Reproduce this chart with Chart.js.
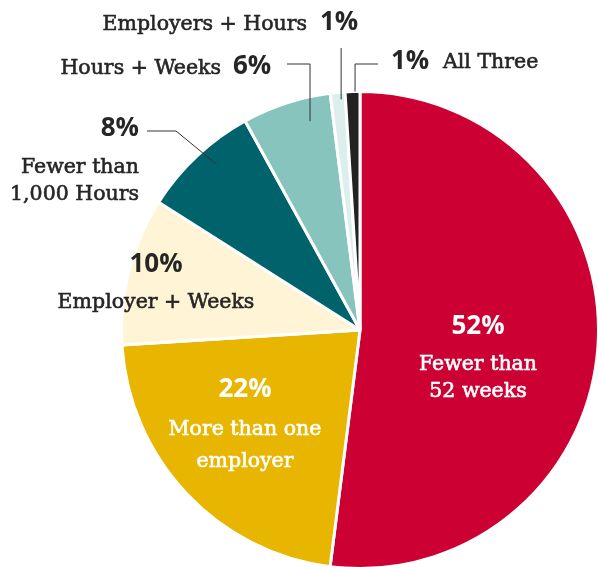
<!DOCTYPE html>
<html>
<head>
<meta charset="utf-8">
<script src="https://cdn.jsdelivr.net/npm/chart.js@4.4.0/dist/chart.umd.min.js"></script>
<style>
  html, body { margin: 0; padding: 0; background: #fff; overflow: hidden; }
  /* the pie runs a little past the right and bottom edges */
  #wrap { width: 610px; height: 580px; position: relative; }
</style>
</head>
<body>
<div id="wrap"><canvas id="pie"></canvas></div>
<script>
const categories = ['Fewer than 52 weeks', 'More than one employer', 'Employer + Weeks',
  'Fewer than 1,000 Hours', 'Hours + Weeks', 'Employers + Hours', 'All Three'];
const shares = [52, 22, 10, 8, 6, 1, 1];
const sliceColors = ['#cc0033', '#e8b500', '#fff5d6', '#00636b', '#88c4be', '#dcefed', '#222222'];

const INK = '#262626';
const PCT_FONT = '700 26px "Open Sans"';
const TXT_FONT = '20.5px "DejaVu Serif"';

// where each slice's text goes; leaders run from the text to a point inside the slice
// (t = position along the slice's sweep, r = fraction of the radius)
const labelSpec = [
  { color: '#fff', align: 'center', x: 478, pctY: 327, lines: ['Fewer than', '52 weeks'], lineY: [365, 392] },
  { color: '#fff', align: 'center', x: 245, pctY: 390, lines: ['More than one', 'employer'], lineY: [430, 462] },
  { color: INK, align: 'center', x: 156, pctY: 265, lines: ['Employer + Weeks'], lineY: [303] },
  { color: INK, align: 'right', x: 139, pctY: 129, lines: ['Fewer than', '1,000 Hours'], lineY: [168, 195],
    leader: { from: [147, 131], via: [[176, 131]], t: 0.58, r: 0.92 } },
  { color: INK, inline: 'Hours + Weeks', pctX: 233, textRight: 221, pctY: 67,
    leader: { from: [287, 64], elbow: true, t: 0.71, r: 0.9 } },
  { color: INK, inline: 'Employers + Hours', pctX: 320, textRight: 307, pctY: 23,
    leader: { fromY: 48, t: 0.7, r: 0.97 } },
  { color: INK, inlineAfter: 'All Three', pctX: 391, textLeft: 443, pctY: 62,
    leader: { from: [378, 64], elbow: true, t: 0.67, r: 1.0 } }
];

function serifText(ctx, str, x, y) {
  // a hairline stroke gives the serif a little more weight
  ctx.fillText(str, x, y);
  ctx.strokeText(str, x, y);
}

const sliceLabels = {
  id: 'sliceLabels',
  afterDatasetsDraw(chart) {
    const ctx = chart.ctx;
    const arcs = chart.getDatasetMeta(0).data;
    ctx.save();
    ctx.textBaseline = 'middle';
    arcs.forEach((arc, i) => {
      const spec = labelSpec[i];
      const p = arc.getProps(['x', 'y', 'startAngle', 'endAngle', 'outerRadius'], true);
      const pct = shares[i] + '%';

      if (spec.leader) {
        const L = spec.leader;
        const ang = p.startAngle + L.t * (p.endAngle - p.startAngle);
        const ax = p.x + Math.cos(ang) * p.outerRadius * L.r;
        const ay = p.y + Math.sin(ang) * p.outerRadius * L.r;
        ctx.beginPath();
        ctx.strokeStyle = '#333';
        ctx.lineWidth = 1;
        if (L.fromY !== undefined) {
          ctx.moveTo(ax, L.fromY);
        } else {
          ctx.moveTo(L.from[0], L.from[1]);
          (L.via || []).forEach(v => ctx.lineTo(v[0], v[1]));
          if (L.elbow) ctx.lineTo(ax, L.from[1]);
        }
        ctx.lineTo(ax, ay);
        ctx.stroke();
      }

      ctx.fillStyle = spec.color;
      ctx.strokeStyle = spec.color;
      ctx.lineWidth = 0.6;
      if (spec.lines) {
        ctx.textAlign = spec.align;
        ctx.font = PCT_FONT;
        ctx.fillText(pct, spec.x, spec.pctY);
        ctx.font = TXT_FONT;
        spec.lines.forEach((ln, k) => serifText(ctx, ln, spec.x, spec.lineY[k]));
      } else {
        ctx.textAlign = 'left';
        ctx.font = PCT_FONT;
        ctx.fillText(pct, spec.pctX, spec.pctY);
        ctx.font = TXT_FONT;
        if (spec.inline) {
          ctx.textAlign = 'right';
          serifText(ctx, spec.inline, spec.textRight, spec.pctY + 2);
        } else {
          serifText(ctx, spec.inlineAfter, spec.textLeft, spec.pctY + 1);
        }
      }
    });
    ctx.restore();
  }
};

new Chart(document.getElementById('pie'), {
  type: 'pie',
  data: {
    labels: categories,
    datasets: [{
      data: shares,
      backgroundColor: sliceColors,
      borderColor: '#ffffff',
      borderWidth: 3
    }]
  },
  options: {
    responsive: true,
    maintainAspectRatio: false,
    animation: false,
    layout: { padding: { left: 120, top: 90, right: 10, bottom: 10 } },
    plugins: {
      legend: { display: false },
      tooltip: { enabled: false }
    }
  },
  plugins: [sliceLabels]
});
</script>
</body>
</html>
